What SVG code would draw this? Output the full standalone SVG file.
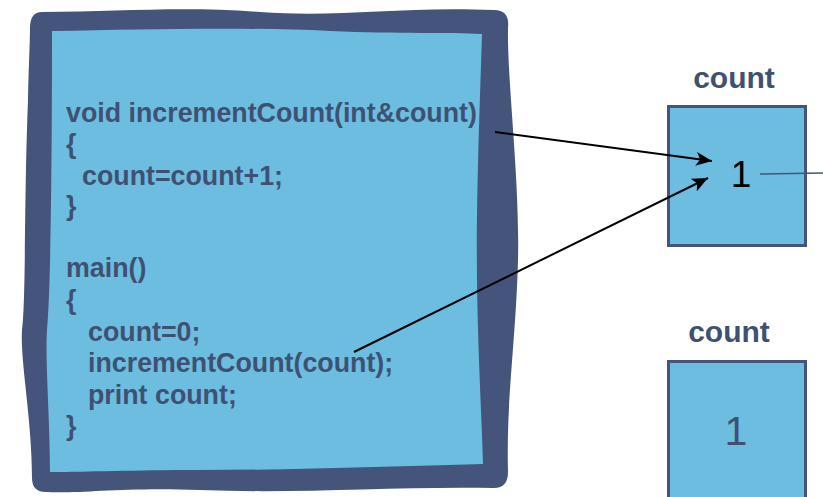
<svg xmlns="http://www.w3.org/2000/svg" width="823" height="497" viewBox="0 0 823 497">
<style>
.code{font-family:"Liberation Sans",Arial,sans-serif;font-weight:bold;font-size:26.8px;fill:#3f5173}
.lbl{font-family:"Liberation Sans",Arial,sans-serif;font-weight:bold;font-size:30px;fill:#3f5173;text-anchor:middle}
.cell{fill:#6cbde0;stroke:#44547a;stroke-width:3}
.conn{fill:none;stroke:#000;stroke-width:2}
</style>
<defs>
<marker id="arr" markerWidth="18" markerHeight="14" refX="16" refY="7" orient="auto" markerUnits="userSpaceOnUse">
<path d="M0,0 L16,7 L0,14 L4,7 Z" fill="#000"/>
</marker>
</defs>
<rect width="823" height="497" fill="#fff"/>
<g id="code-frame">
<path fill="#44547a" d="M42 12 C120 12 180 6 260 12 C340 18 400 6 494 10 Q510 10 508 28 C507 80 520 180 518 260 C516 340 506 400 508 472 Q508 488 494 488 C400 486 300 494 200 490 C120 487 80 494 46 492 Q32 492 32 478 C32 420 20 360 22 330 C26 300 24 200 28 100 C29 60 30 40 30 28 Q30 12 42 12 Z"/>
<path fill="#6cbde0" d="M52 31 C150 29 250 27 330 31 C400 34 450 32 482 34 C480 100 476 200 477 280 C478 360 482 420 483 464 C400 466 300 470 200 470 C130 470 90 472 50 472 C50 420 45 360 47 330 C50 300 52 200 52 31 Z"/>
<text class="code" x="66" y="122">void incrementCount(int&amp;count)</text>
<text class="code" x="66" y="153">{</text>
<text class="code" x="82" y="185">count=count+1;</text>
<text class="code" x="66" y="215">}</text>
<text class="code" x="66" y="277">main()</text>
<text class="code" x="66" y="309">{</text>
<text class="code" x="88" y="341">count=0;</text>
<text class="code" x="88" y="372">incrementCount(count);</text>
<text class="code" x="88" y="404">print count;</text>
<text class="code" x="66" y="435">}</text>
</g>
<g id="count-cell-1">
<text class="lbl" x="734" y="88">count</text>
<rect class="cell" x="668.5" y="106.5" width="137" height="139"/>
<text x="741" y="187" font-family="'Liberation Sans',Arial,sans-serif" font-size="37" fill="#000" text-anchor="middle">1</text>
</g>
<g id="count-cell-2">
<text class="lbl" x="729" y="342">count</text>
<rect class="cell" x="668.5" y="361.5" width="137" height="150"/>
<text x="736" y="445" font-family="'Liberation Sans',Arial,sans-serif" font-size="41" fill="#3f5173" text-anchor="middle">1</text>
</g>
<g id="connectors">
<line class="conn" x1="495" y1="132" x2="712" y2="161" marker-end="url(#arr)"/>
<line class="conn" x1="354" y1="352" x2="708" y2="178" marker-end="url(#arr)"/>
<line x1="760" y1="174" x2="823" y2="173" stroke="#44547a" stroke-width="1.5"/>
</g>
</svg>
